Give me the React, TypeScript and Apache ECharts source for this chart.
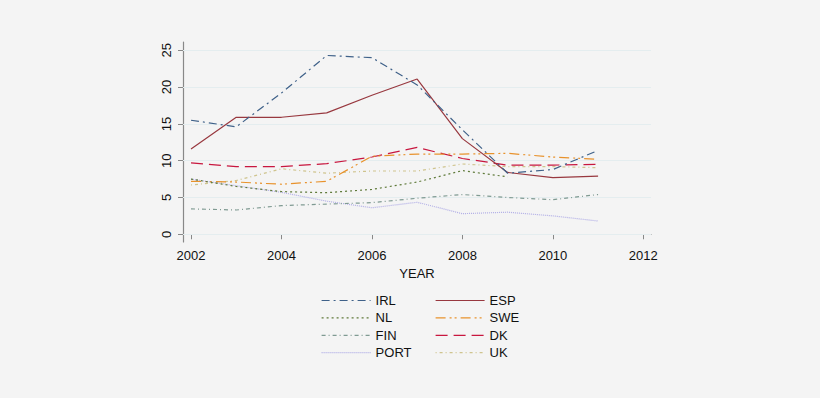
import React, { useEffect, useRef } from "react";
import * as echarts from "echarts";

const years = [2002, 2003, 2004, 2005, 2006, 2007, 2008, 2009, 2010, 2011];
const xTicks = [2002, 2004, 2006, 2008, 2010, 2012];
const yTicks = [0, 5, 10, 15, 20, 25];

const IRL = [15.5, 14.6, 19.2, 24.3, 24.0, 20.3, 14.2, 8.3, 8.8, 11.4];
const ESP = [11.6, 15.9, 15.9, 16.5, 18.9, 21.1, 13.0, 8.4, 7.7, 7.9];
const NL = [7.5, 6.5, 5.8, 5.65, 6.1, 7.1, 8.65, 7.8, null, null];
const SWE = [7.2, 7.1, 6.8, 7.2, 10.6, 10.9, 10.9, 11.0, 10.5, 10.2];
const FIN = [3.45, 3.3, 3.9, 4.1, 4.3, 4.9, 5.4, 5.0, 4.7, 5.4];
const DK = [9.7, 9.2, 9.2, 9.6, 10.5, 11.8, 10.3, 9.4, 9.4, 9.5];
const PORT = [7.5, 6.6, 5.7, 4.5, 3.6, 4.35, 2.8, 3.0, 2.5, 1.8];
const UK = [6.7, 7.3, 8.9, 8.3, 8.6, 8.6, 9.55, 9.2, 9.2, 9.05];

const seriesDefs = [
  { name: "IRL", data: IRL, color: "#3f6189", type: [8, 4, 2, 4] },
  { name: "NL", data: NL, color: "#5f7a3a", type: [2, 3] },
  { name: "FIN", data: FIN, color: "#7f9a92", type: [4, 3, 1, 3] },
  { name: "PORT", data: PORT, color: "#b0ade6", type: [1, 1] },
  { name: "ESP", data: ESP, color: "#98383f", type: "solid" },
  { name: "SWE", data: SWE, color: "#e8922c", type: [10, 4, 2, 3, 2, 4] },
  { name: "DK", data: DK, color: "#c8173f", type: [12, 6] },
  { name: "UK", data: UK, color: "#cfc48e", type: [1, 3, 3, 3] },
];

export default function App() {
  const ref = useRef<HTMLDivElement>(null);
  useEffect(() => {
    if (!ref.current) return;
    const chart = echarts.init(ref.current, null, { renderer: "svg" });
    const font = "'Liberation Sans', Arial, Helvetica, sans-serif";
    const series: any[] = seriesDefs.map((s, i) => ({
      name: s.name,
      type: "line",
      data: years.map((y, j) => [y, s.data[j]]),
      symbol: "none",
      connectNulls: false,
      lineStyle: { color: s.color, width: 1.2, type: s.type },
      itemStyle: { color: s.color },
      z: 10 - i,
      markLine:
        i === 0
          ? {
              silent: true,
              symbol: "none",
              label: { show: false },
              lineStyle: { color: "#e4edef", width: 1, type: "solid" },
              data: yTicks.map((v) => ({ yAxis: v })),
              z: 1,
            }
          : undefined,
    }));
    const legendItem = (name: string) => {
      const s = seriesDefs.find((d) => d.name === name)!;
      return {
        name,
        itemStyle: { opacity: 0 },
        lineStyle: { color: s.color, width: 1.2, type: s.type, opacity: 1 },
      };
    };
    const legendCommon = {
      orient: "vertical",
      itemWidth: 49,
      itemHeight: 14,
      itemGap: 4.4,
      top: 289,
      textStyle: { fontFamily: font, fontSize: 13, color: "#111" },
    };
    chart.setOption({
      animation: false,
      backgroundColor: "#f4f4f4",
      grid: { left: 183, right: 169, top: 42, bottom: 156, containLabel: false },
      xAxis: {
        type: "value",
        min: 2001.823,
        max: 2012.17,
        name: "YEAR",
        nameLocation: "middle",
        nameGap: 22,
        nameTextStyle: { fontFamily: font, fontSize: 13, color: "#111" },
        axisLine: { show: true, lineStyle: { color: "#888", width: 1.2 } },
        axisTick: { show: true, length: 5, customValues: xTicks, lineStyle: { color: "#888" } },
        axisLabel: {
          customValues: xTicks,
          margin: 7,
          fontFamily: font,
          fontSize: 13,
          color: "#111",
          formatter: (v: number) => String(v),
        },
        splitLine: { show: false },
      },
      yAxis: {
        type: "value",
        min: -1.05,
        max: 26.13,
        axisLine: { show: true, lineStyle: { color: "#888", width: 1.2 } },
        axisTick: { show: true, length: 5, customValues: yTicks, lineStyle: { color: "#888" } },
        axisLabel: {
          customValues: yTicks,
          rotate: 90,
          margin: 10,
          fontFamily: font,
          fontSize: 13,
          color: "#111",
          formatter: (v: number) => String(v),
        },
        splitLine: { show: false },
      },
      legend: [
        { ...legendCommon, left: 316, data: ["IRL", "NL", "FIN", "PORT"].map(legendItem) },
        { ...legendCommon, left: 430, data: ["ESP", "SWE", "DK", "UK"].map(legendItem) },
      ],
      series,
    });
    return () => chart.dispose();
  }, []);
  return (
    <div
      ref={ref}
      style={{ position: "fixed", left: 0, top: 0, width: 820, height: 398 }}
    />
  );
}
